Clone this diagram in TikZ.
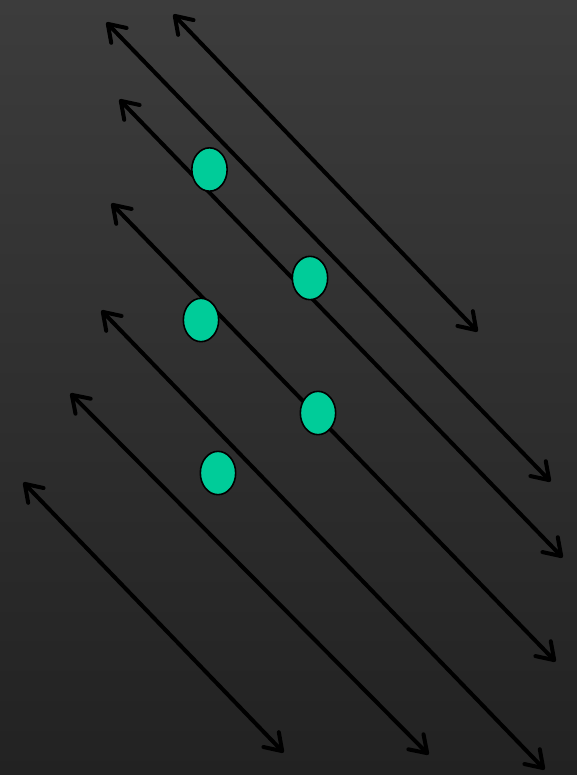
\documentclass[tikz,border=0pt]{standalone}
\usetikzlibrary{arrows.meta}
\definecolor{bgtop}{HTML}{3C3C3C}
\definecolor{bgbot}{HTML}{222222}
\definecolor{dotgreen}{HTML}{00CC99}
\tikzset{
  dblarrow/.style={line width=3pt, black, line cap=round,
    {Straight Barb[length=12pt,width=16pt,line cap=round,line join=round]}-{Straight Barb[length=12pt,width=16pt,line cap=round,line join=round]}, shorten <=1.5pt, shorten >=1.5pt},
  dot/.style={ellipse, draw=black, line width=1.2pt, fill=dotgreen, minimum width=26.5pt, minimum height=32.5pt, inner sep=0pt}
}
\usetikzlibrary{shapes.geometric}
\begin{document}
\begin{tikzpicture}[x=0.75pt,y=-0.75pt]
\shade[top color=bgtop, bottom color=bgbot] (0,0) rectangle (577,775);
\useasboundingbox (0,0) rectangle (577,775);
\coordinate (a1s) at (172,13);  \coordinate (a1e) at (479,333);
\coordinate (a2s) at (105,21);  \coordinate (a2e) at (552,483);
\coordinate (a3s) at (118,98);  \coordinate (a3e) at (564,559);
\coordinate (a4s) at (110,202); \coordinate (a4e) at (557,663);
\coordinate (a5s) at (100,309); \coordinate (a5e) at (546,771);
\coordinate (a6s) at (69,392);  \coordinate (a6e) at (430,756);
\coordinate (a7s) at (22,481);  \coordinate (a7e) at (285,754);
\draw[dblarrow] (a1s) -- (a1e);
\draw[dblarrow] (a2s) -- (a2e);
\draw[dblarrow] (a3s) -- (a3e);
\draw[dblarrow] (a4s) -- (a4e);
\draw[dblarrow] (a5s) -- (a5e);
\draw[dblarrow] (a6s) -- (a6e);
\draw[dblarrow] (a7s) -- (a7e);
\node[dot] (e1) at (209.5,169.5) {};
\node[dot] (e2) at (310,278) {};
\node[dot] (e3) at (201,320) {};
\node[dot] (e4) at (318,413) {};
\node[dot] (e5) at (218,473) {};
\end{tikzpicture}
\end{document}
